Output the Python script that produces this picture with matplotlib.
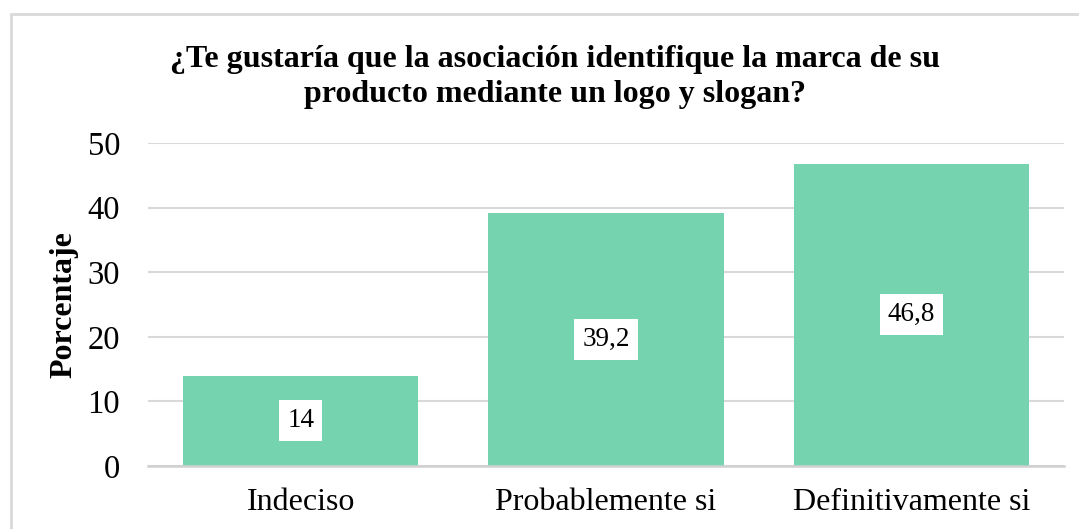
import matplotlib.pyplot as plt
from matplotlib.patches import Rectangle

# datos del grafico
categorias = ['Indeciso', 'Probablemente si', 'Definitivamente si']
porcentajes = [14, 39.2, 46.8]
etiquetas = ['14', '39,2', '46,8']
titulo = '¿Te gustaría que la asociación identifique la marca de su\nproducto mediante un logo y slogan?'

plt.rcParams['font.family'] = ['Liberation Serif', 'DejaVu Serif']

W, H = 1079, 529
fig = plt.figure(figsize=(W / 100, H / 100), dpi=100)

# marco gris del area del grafico (cortado a la derecha y abajo)
fig.patches.append(Rectangle((11 / W, -0.1), 1.2, 1 - 14 / H + 0.1,
                             transform=fig.transFigure, fill=False,
                             edgecolor='#D9D9D9', linewidth=2.0))

ax = fig.add_axes([148 / W, 1 - 466 / H, (1064 - 148) / W, (466 - 143) / H])

x = range(len(categorias))
ax.bar(x, porcentajes, width=0.77, color='#75D3AF', zorder=2)

ax.set_ylim(0, 50)
ax.set_xlim(-0.5, 2.5)
ax.set_yticks([0, 10, 20, 30, 40, 50])
ax.yaxis.grid(True, color='#D9D9D9', linewidth=1.5, zorder=0)
ax.set_axisbelow(True)
for s in ['top', 'right', 'left']:
    ax.spines[s].set_visible(False)
ax.spines['bottom'].set_color('#D0D0D0')
ax.spines['bottom'].set_linewidth(1.8)
ax.tick_params(axis='y', length=0, pad=20, labelsize=23.5)
ax.tick_params(axis='x', length=0, pad=16, labelsize=23)
ax.set_xticks(list(x))
ax.set_xticklabels(categorias)

for xi, v, lab in zip(x, porcentajes, etiquetas):
    ax.text(xi, v / 2, lab, ha='center', va='center', fontsize=19.5, zorder=3,
            bbox=dict(boxstyle='square,pad=0.3', facecolor='white', edgecolor='none'))

ax.set_ylabel('Porcentaje', fontsize=23, fontweight='bold')
ax.yaxis.set_label_coords(-0.076, 0.5)

fig.text(555 / W, 1 - 77 / H, titulo, ha='center', va='center', fontsize=23,
         fontweight='bold', linespacing=1.25)

fig.savefig('out.png', dpi=100)
